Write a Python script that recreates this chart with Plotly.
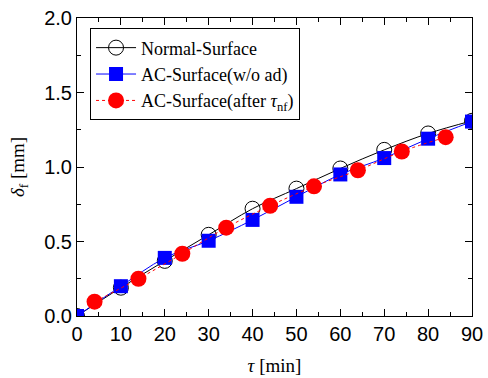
import plotly.graph_objects as go

tau_normal = [0, 10, 20, 30, 40, 50, 60, 70, 80, 90]
delta_normal = [0.0, 0.19, 0.37, 0.545, 0.72, 0.855, 0.99, 1.115, 1.225, 1.31]

tau_ac = [0, 10, 20, 30, 40, 50, 60, 70, 80, 90]
delta_ac = [0.0, 0.2, 0.39, 0.505, 0.645, 0.80, 0.95, 1.06, 1.19, 1.305]

tau_after = [4, 14, 24, 34, 44, 54, 64, 74, 84]
delta_after = [0.096, 0.25, 0.418, 0.593, 0.74, 0.87, 0.978, 1.104, 1.2]

SERIF = "Liberation Serif"
SANS = "Liberation Sans"

fig = go.Figure()
fig.add_trace(go.Scatter(
    x=tau_normal, y=delta_normal, mode="lines+markers", name="Normal-Surface",
    line=dict(color="black", width=1, shape="spline"),
    marker=dict(symbol="circle-open", size=15, color="black", line=dict(width=1)),
))
fig.add_trace(go.Scatter(
    x=tau_ac, y=delta_ac, mode="lines+markers", name="AC-Surface(w/o ad)",
    line=dict(color="blue", width=1, shape="spline"),
    marker=dict(symbol="square", size=14, color="blue"),
))
fig.add_trace(go.Scatter(
    x=tau_after, y=delta_after, mode="lines+markers",
    name="AC-Surface(after <i>τ</i><sub>nf</sub>)",
    line=dict(color="red", width=1, dash="dot", shape="spline"),
    marker=dict(symbol="circle", size=16, color="red"),
))

axis_common = dict(
    showline=True, linecolor="black", linewidth=1, mirror="ticks",
    ticks="inside", ticklen=7, tickcolor="black", showgrid=False, zeroline=False,
    tickfont=dict(family=SANS, size=20, color="black"),
    automargin=False,
)

fig.update_xaxes(
    range=[0, 90], dtick=10, tick0=0,
    minor=dict(dtick=5, ticks="inside", ticklen=4, tickcolor="black"),
    title=dict(text="<i>τ</i> [min]", font=dict(family=SERIF, size=19, color="black"), standoff=14),
    **axis_common,
)
fig.update_yaxes(
    range=[0, 2.0], dtick=0.5, tick0=0, tickformat=".1f",
    minor=dict(dtick=0.25, ticks="inside", ticklen=4, tickcolor="black"),
    title=dict(text="<i>δ</i><sub>f</sub> [mm]", font=dict(family=SERIF, size=19, color="black"), standoff=14),
    **axis_common,
)

fig.update_layout(
    width=488, height=378,
    margin=dict(l=77, r=16, t=18, b=62),
    paper_bgcolor="white", plot_bgcolor="white",
    showlegend=True,
    legend=dict(
        x=0.033, y=0.965, xanchor="left", yanchor="top",
        bgcolor="white", bordercolor="black", borderwidth=1,
        font=dict(family=SERIF, size=18, color="black"),
        itemwidth=40, tracegroupgap=0,
    ),
)

fig.write_html("out.html")
